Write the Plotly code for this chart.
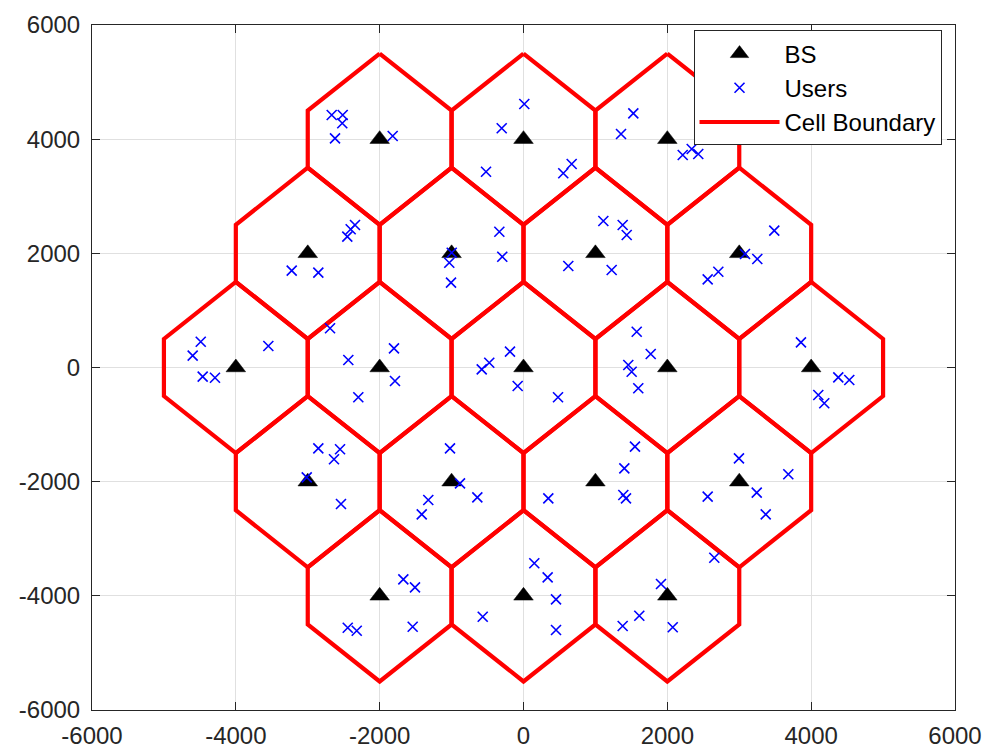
import plotly.graph_objects as go

# Base station (cell centre) coordinates
bs_x = [-2000, 0, 2000,
        -3000, -1000, 1000, 3000,
        -4000, -2000, 0, 2000, 4000,
        -3000, -1000, 1000, 3000,
        -2000, 0, 2000]
bs_y = [4000, 4000, 4000,
        2000, 2000, 2000, 2000,
        0, 0, 0, 0, 0,
        -2000, -2000, -2000, -2000,
        -4000, -4000, -4000]

# Hexagon vertex offsets relative to a cell centre (closed ring)
hex_dx = [0, 1000, 1000, 0, -1000, -1000, 0]
hex_dy = [1500, 500, -500, -1500, -500, 500, 1500]

# User positions (5 per cell)
user_x = [-2667, -2514, -2520, -2621, -1819,
          11, -303, -521, 553, 670,
          1527, 1356, 2214, 2339, 2430,
          -2343, -2403, -2450, -3223, -2853,
          -998, -1032, -1008, -336, -295,
          1110, 1379, 1435, 623, 1226,
          3487, 3080, 3251, 2561, 2709,
          -4488, -4600, -4461, -4290, -3548,
          -2690, -2436, -2297, -1801, -1787,
          -188, -476, -581, -81, 480,
          1574, 1769, 1457, 1504, 1596,
          3858, 4377, 4530, 4099, 4182,
          -2853, -2551, -2635, -3014, -2538,
          -1022, -883, -642, -1324, -1415,
          1550, 1402, 1388, 1425, 345,
          2996, 3682, 3243, 2561, 3368,
          -1671, -1509, -2444, -2319, -1541,
          150, 336, 452, 452, -567,
          1912, 2653, 1610, 1379, 2075]
user_y = [4424, 4424, 4278, 4015, 4056,
          4616, 4191, 3430, 3402, 3565,
          4453, 4091, 3723, 3828, 3741,
          2496, 2421, 2292, 1696, 1661,
          2011, 1836, 1486, 2379, 1941,
          2567, 2496, 2321, 1778, 1708,
          2397, 1989, 1901, 1545, 1678,
          452, 207, -161, -179, 377,
          687, 131, -522, 336, -237,
          277, 84, -32, -324, -522,
          627, 237, 44, -74, -364,
          441, -172, -219, -482, -627,
          -1416, -1433, -1608, -1924, -2391,
          -1416, -2029, -2274, -2321, -2572,
          -1387, -1766, -2234, -2292, -2292,
          -1591, -1871, -2193, -2263, -2572,
          -3711, -3851, -4559, -4611, -4541,
          -3430, -3676, -4061, -4599, -4366,
          -3793, -3332, -4348, -4529, -4551]

tick_vals = [-6000, -4000, -2000, 0, 2000, 4000, 6000]
tick_text = ["-6000", "-4000", "-2000", "0", "2000", "4000", "6000"]

hx, hy = [], []
for cx, cy in zip(bs_x, bs_y):
    hx += [cx + d for d in hex_dx] + [None]
    hy += [cy + d for d in hex_dy] + [None]

fig = go.Figure()
fig.add_trace(go.Scatter(
    x=hx, y=hy, mode="lines", name="Cell Boundary",
    line=dict(color="#ff0000", width=4.2), legendrank=3,
))
fig.add_trace(go.Scatter(
    x=bs_x, y=bs_y, mode="markers", name="BS",
    marker=dict(symbol="triangle-up", size=17, color="black",
                line=dict(color="black", width=0.5)),
    legendrank=1,
))
fig.add_trace(go.Scatter(
    x=user_x, y=user_y, mode="markers", name="Users",
    marker=dict(symbol="x-thin", size=10, color="#0000ff",
                line=dict(color="#0000ff", width=1.6)),
    legendrank=2,
))

axis_common = dict(
    range=[-6000, 6000], tickvals=tick_vals, ticktext=tick_text,
    showgrid=True, gridcolor="#e0e0e0", gridwidth=1,
    zeroline=False, showline=True, linecolor="#262626", linewidth=1,
    mirror="ticks", ticks="inside", ticklen=8, tickcolor="#262626",
    automargin=False,
    tickfont=dict(family="Liberation Sans, Arial, sans-serif", size=24, color="#262626"),
)

fig.update_layout(
    width=990, height=751,
    margin=dict(l=92, r=35, t=25, b=41),
    paper_bgcolor="white", plot_bgcolor="white",
    xaxis=dict(**axis_common, ticklabelstandoff=4),
    yaxis=dict(**axis_common, ticklabelstandoff=6),
    showlegend=True,
    legend=dict(
        x=0.697, y=0.992, xanchor="left", yanchor="top",
        bgcolor="white", bordercolor="#262626", borderwidth=1,
        font=dict(family="Liberation Sans, Arial, sans-serif", size=24, color="black"),
        itemwidth=80, tracegroupgap=0,
    ),
)

fig.write_html("out.html")
